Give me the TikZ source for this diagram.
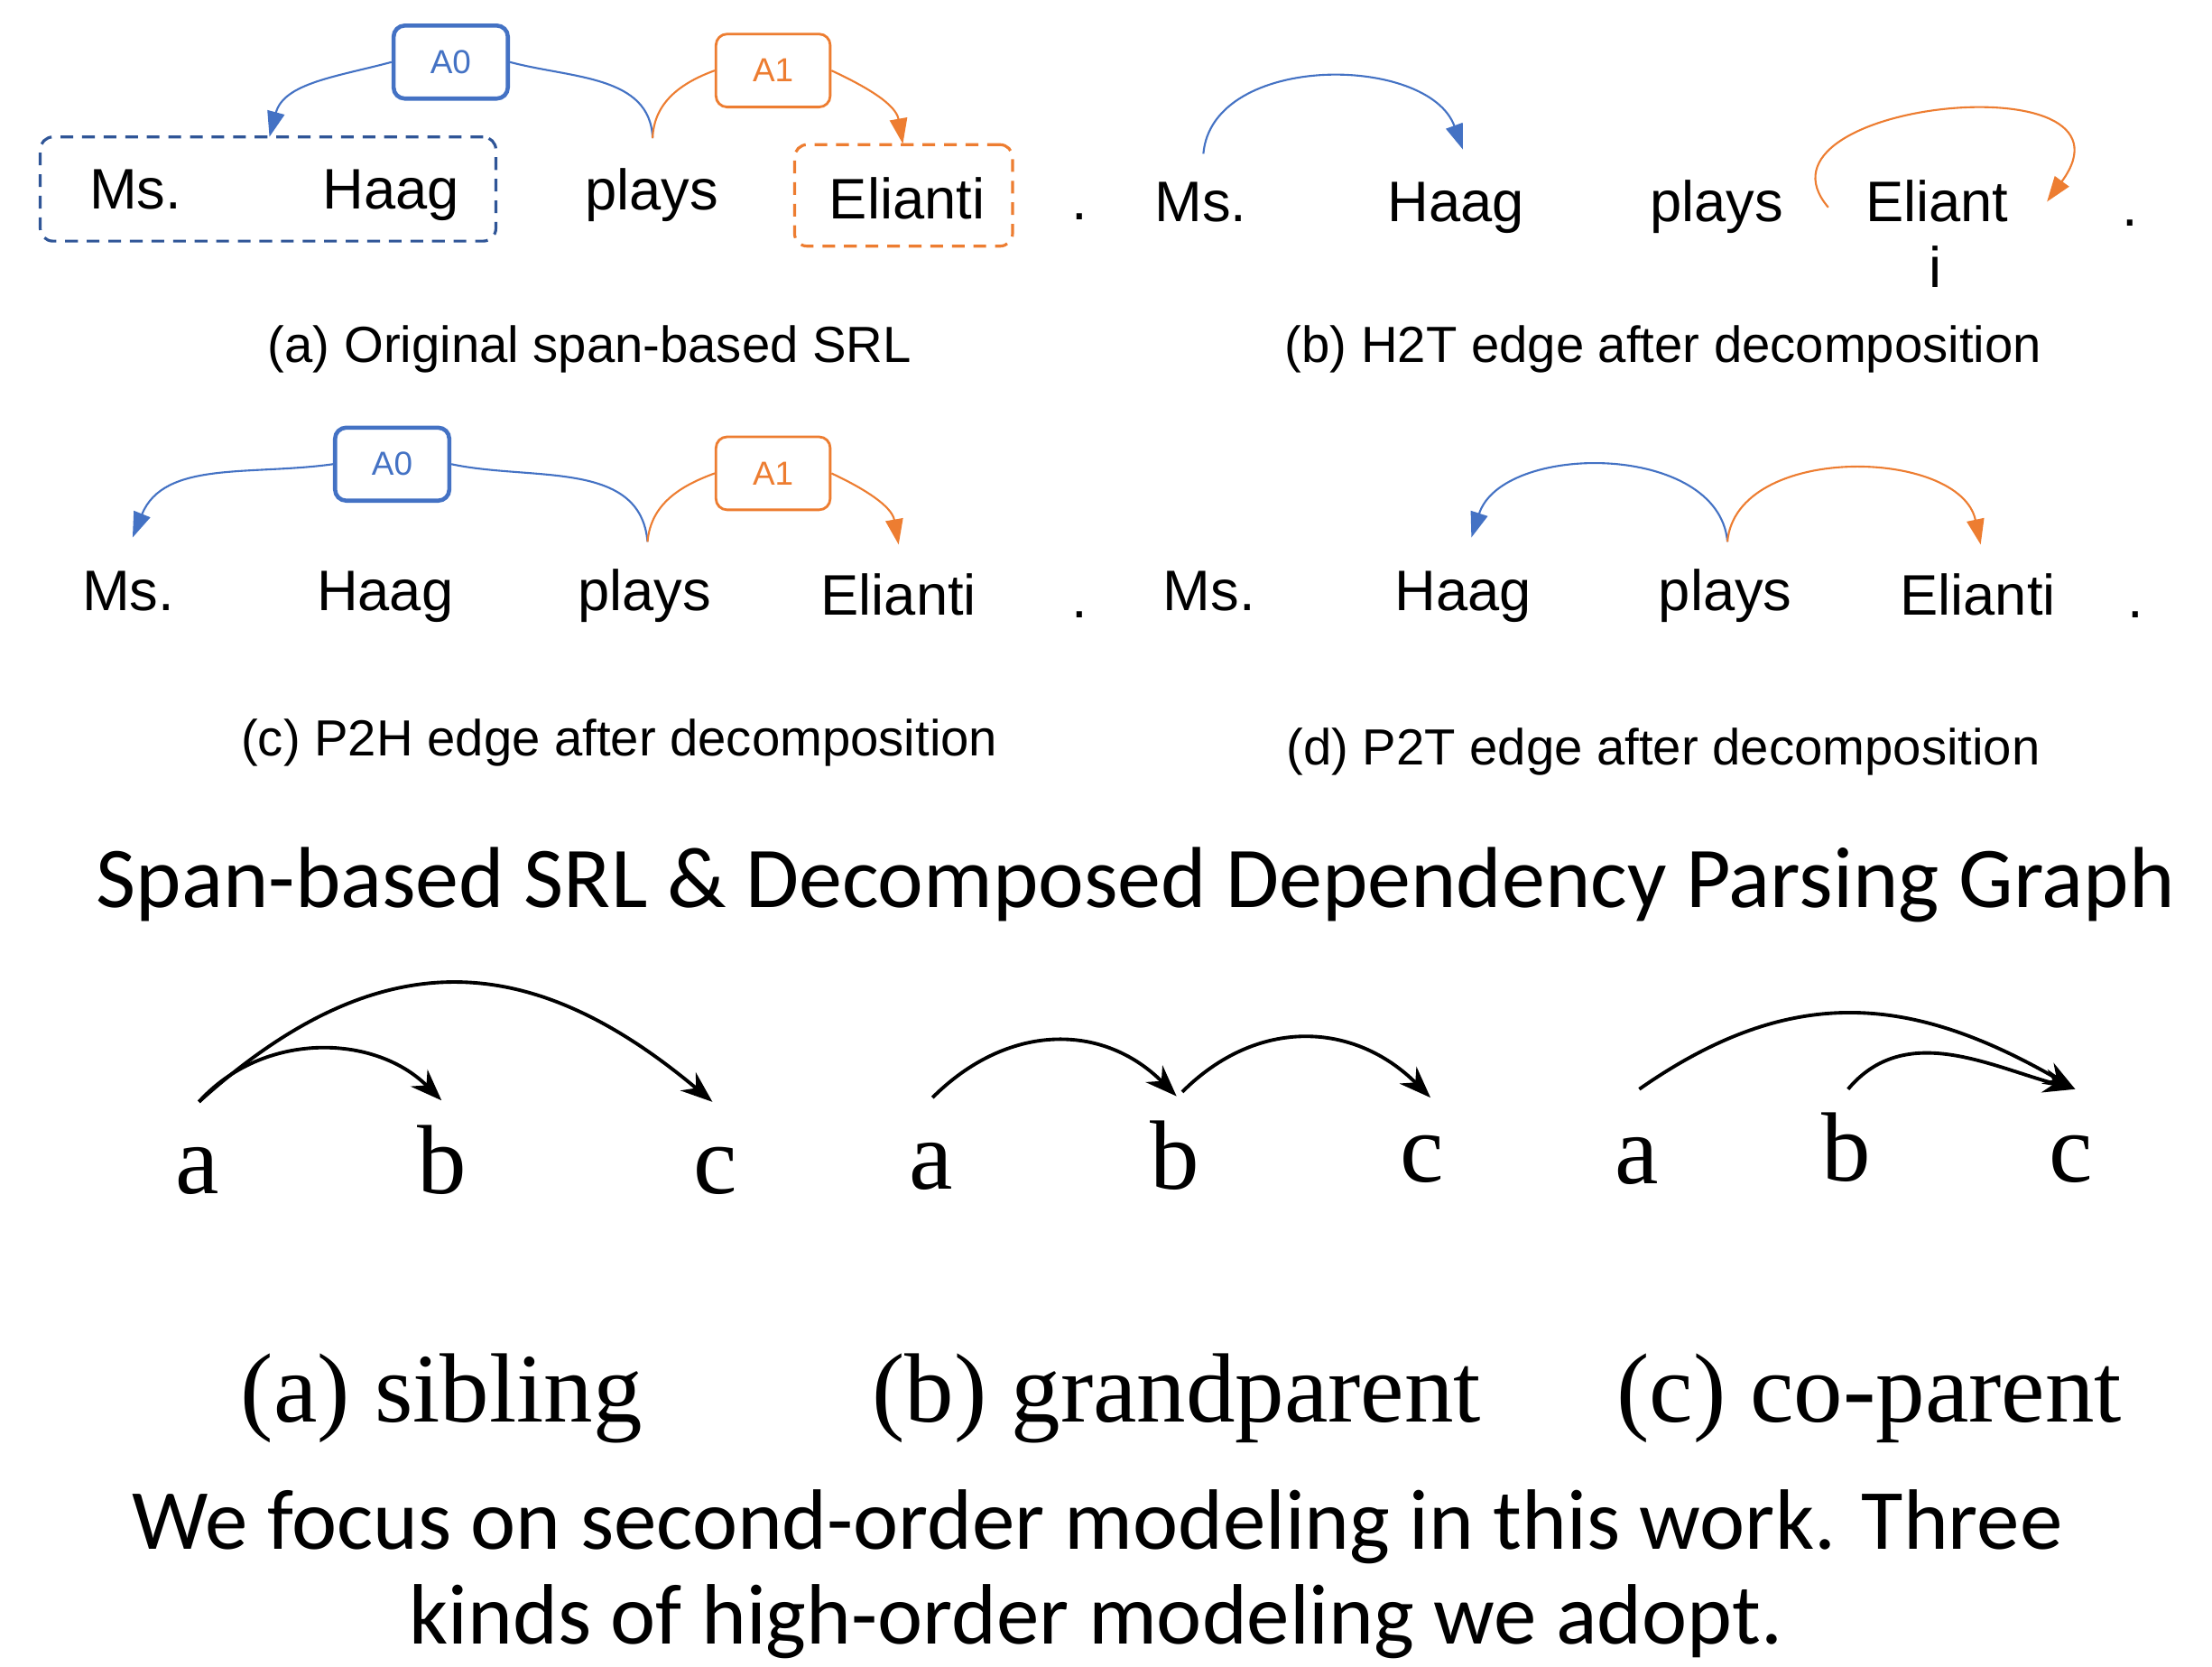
\documentclass[tikz,border=0pt]{standalone}
\usepackage{fontspec}
\setmainfont{Liberation Serif}
\newfontfamily\arialf{Liberation Sans}
\newfontfamily\calib{Carlito}
\usetikzlibrary{arrows.meta}
\definecolor{blueA}{HTML}{4472C4}
\definecolor{orangeA}{HTML}{ED7D31}
\definecolor{darkblueA}{HTML}{2F5597}
\tikzset{
  word/.style={font=\arialf\fontsize{18}{20}\selectfont, inner sep=0pt, anchor=base},
  capt/.style={font=\arialf\fontsize{16}{18}\selectfont, inner sep=0pt, anchor=base},
  lbox/.style={draw, rounded corners=3.5pt, minimum width=36pt, minimum height=23pt, inner sep=0pt, font=\arialf\fontsize{10.5}{12}\selectfont},
  spanbox/.style={draw, dashed, dash pattern=on 4pt off 2.8pt, line width=0.9pt, rounded corners=4pt},
  barc/.style={blueA, line width=0.6pt, -{Triangle[length=8pt,width=5.5pt]}},
  oarc/.style={orangeA, line width=0.6pt, -{Triangle[length=8pt,width=5.5pt]}},
  bline/.style={blueA, line width=0.6pt},
  oline/.style={orangeA, line width=0.6pt},
  letter/.style={font=\fontsize{31}{34}\selectfont, inner sep=0pt, anchor=base},
  karc/.style={black, line width=1.1pt, -{Stealth[length=10pt,width=7.5pt]}},
  bigtxt/.style={font=\calib\fontsize{27}{32}\selectfont, inner sep=0pt, anchor=base},
  subcapt/.style={font=\fontsize{31}{34}\selectfont, inner sep=0pt, anchor=base}
}
\begin{document}
\begin{tikzpicture}[x=0.015631cm, y=-0.015631cm]
\useasboundingbox[fill=white] (0,0) rectangle (1568,1181);

% ---------- panel (a)
\node[spanbox, darkblueA, minimum width=143.6pt, minimum height=32.8pt] (spanA) at (190,134) {};
\node[spanbox, orangeA, minimum width=68.7pt, minimum height=32pt] (spanB) at (640.5,138.5) {};
\node[word] (a1) at (96,148) {Ms.};
\node[word] (a2) at (277,148) {Haag};
\node[word] (a3) at (462,149) {plays};
\node[word] (a4) at (643,155) {Elianti};
\node[word] (a5) at (765,156) {.};
\node[lbox, blueA, line width=1.3pt] (a0box) at (319.5,44) {A0};
\node[lbox, orangeA, line width=0.8pt] (a1box) at (548,50) {A1};
\coordinate (aS) at (462.6,98);
\coordinate (aT0) at (191,97);
\coordinate (aT1) at (640,102);
\draw[bline] (aS) to[out=92, in=-15] (a0box.east);
\draw[barc] (a0box.west) to[out=195, in=75] (aT0);
\draw[oline] (aS) to[out=88, in=200] (a1box.west);
\draw[oarc] (a1box.east) to[out=-25, in=100] (aT1);
\node[capt] (capa) at (418,257) {(a) Original span-based SRL};

% ---------- panel (b)
\node[word] (b1) at (851,157) {Ms.};
\node[word] (b2) at (1032,157) {Haag};
\node[word] (b3) at (1217,157) {plays};
\node[word] (b4) at (1373,157) {Eliant};
\node[word] (b4i) at (1372,204) {i};
\node[word] (b5) at (1510,160) {.};
\coordinate (bS0) at (853,109);
\coordinate (bT0) at (1037,106);
\coordinate (bS1) at (1296,147);
\coordinate (bT1) at (1451,143);
\draw[barc] (bS0) to[out=85, in=110] (bT0);
\draw[oarc] (bS1) .. controls (1232,72) and (1525,42) .. (bT1);
\node[capt] (capb) at (1179,257) {(b) H2T edge after decomposition};

% ---------- panel (c)
\node[word] (c1) at (91,433) {Ms.};
\node[word] (c2) at (273,433) {Haag};
\node[word] (c3) at (457,433) {plays};
\node[word] (c4) at (637,436) {Elianti};
\node[word] (c5) at (765,438) {.};
\node[lbox, blueA, line width=1.3pt] (c0box) at (278,329) {A0};
\node[lbox, orangeA, line width=0.8pt] (c1box) at (548,335.5) {A1};
\coordinate (cS) at (459,384);
\coordinate (cT0) at (94,381);
\coordinate (cT1) at (637,386);
\draw[bline] (cS) to[out=95, in=-12] (c0box.east);
\draw[barc] (c0box.west) to[out=188, in=68] (cT0);
\draw[oline] (cS) to[out=85, in=200] (c1box.west);
\draw[oarc] (c1box.east) to[out=-25, in=100] (cT1);
\node[capt] (capc) at (439,536) {(c) P2H edge after decomposition};

% ---------- panel (d)
\node[word] (d1) at (857,433) {Ms.};
\node[word] (d2) at (1037,433) {Haag};
\node[word] (d3) at (1223,433) {plays};
\node[word] (d4) at (1402,436) {Elianti};
\node[word] (d5) at (1514,438) {.};
\coordinate (dS) at (1224.5,384);
\coordinate (dT0) at (1043,381);
\coordinate (dT1) at (1404,386);
\draw[barc] (dS) to[out=95, in=72] (dT0);
\draw[oarc] (dS) to[out=85, in=102] (dT1);
\node[capt] (capd) at (1179,542) {(d) P2T edge after decomposition};

% ---------- title
\node[bigtxt, font=\calib\fontsize{27.3}{32}\selectfont] (title) at (805,643) {Span-based SRL \& Decomposed Dependency Parsing Graph};

% ---------- high-order graphs
\node[letter] (g1a) at (140,846) {a};
\node[letter] (g1b) at (313,846) {b};
\node[letter] (g1c) at (507,846) {c};
\coordinate (g1s) at (141,781);
\coordinate (g1tb) at (313,780);
\coordinate (g1tc) at (505,781);
\draw[karc] (g1s) to[out=42, in=140, looseness=1.2] (g1tc);
\draw[karc] (g1s) to[out=48, in=135] (g1tb);

\node[letter] (g2a) at (660,843) {a};
\node[letter] (g2b) at (833,843) {b};
\node[letter] (g2c) at (1008,838) {c};
\coordinate (g2s) at (661,778);
\coordinate (g2tb) at (834,777);
\coordinate (g2sb) at (838,774);
\coordinate (g2tc) at (1014,778);
\draw[karc] (g2s) to[out=45, in=135, looseness=1.1] (g2tb);
\draw[karc] (g2sb) to[out=45, in=135, looseness=1.1] (g2tc);

\node[letter] (g3a) at (1160,839) {a};
\node[letter] (g3b) at (1309,837) {b};
\node[letter] (g3c) at (1468,838) {c};
\coordinate (g3s) at (1162,772);
\coordinate (g3sb) at (1310,772);
\coordinate (g3tc) at (1471,772);
\draw[karc] (g3s) to[out=35, in=150, looseness=1.1] (g3tc);
\draw[karc] (g3sb) to[out=50, in=165] (g3tc);

\node[subcapt] (sa) at (313,1008) {(a) sibling};
\node[subcapt] (sb) at (834,1008) {(b) grandparent};
\node[subcapt] (sc) at (1325,1008) {(c) co-parent};

\node[bigtxt] (l1) at (778,1098) {We focus on second-order modeling in this work. Three};
\node[bigtxt] (l2) at (777,1165) {kinds of high-order modeling we adopt.};
\end{tikzpicture}
\end{document}
